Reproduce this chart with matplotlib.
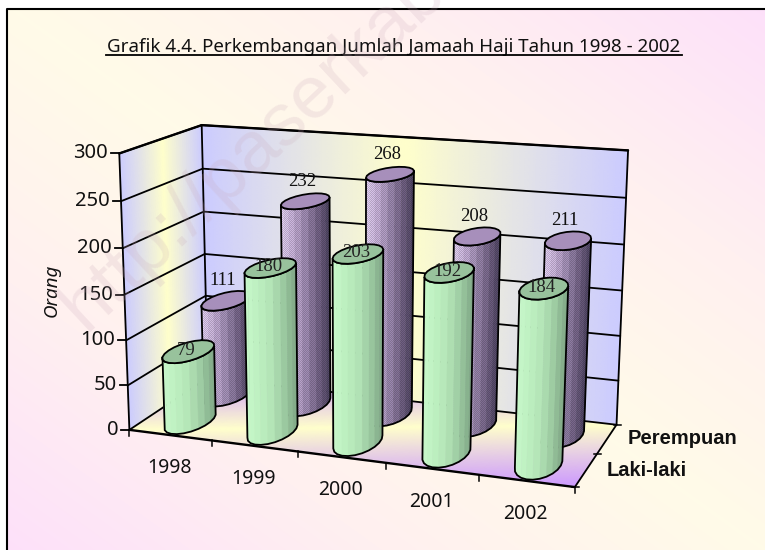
import numpy as np
import matplotlib
matplotlib.use("Agg")
import matplotlib.pyplot as plt
from matplotlib.colors import LinearSegmentedColormap
from matplotlib.patches import Polygon, Rectangle

# data
years = ["1998", "1999", "2000", "2001", "2002"]
laki = [79, 180, 203, 192, 184]
perempuan = [111, 232, 268, 208, 211]
value_ticks = [0, 50, 100, 150, 200, 250, 300]

W, H = 765, 550

# where the 3d chart box sits in the picture (category, series, value -> pixel)
calib_world = [
    (0, 0, 0), (1, 0, 0), (2, 0, 0), (3, 0, 0), (4, 0, 0), (5, 0, 0),
    (5, 2, 0), (0, 2, 0), (0, 0, 300), (0, 2, 300), (5, 2, 300),
]
calib_px = [
    (130, 430), (212, 440), (298, 451), (386, 462), (478, 475), (575, 489),
    (617, 423), (207, 379), (119, 153), (202, 125), (628, 151),
]


def fit_camera(world, px):
    rows, rhs = [], []
    for (c, s, v), (x, y) in zip(world, px):
        v = v / 100
        rows.append([c, s, v, 1, 0, 0, 0, 0, -x * c, -x * s, -x * v])
        rows.append([0, 0, 0, 0, c, s, v, 1, -y * c, -y * s, -y * v])
        rhs += [x, y]
    m = np.linalg.lstsq(np.array(rows, float), np.array(rhs, float), rcond=None)[0]
    return np.append(m, 1).reshape(3, 4)


CAM = fit_camera(calib_world, calib_px)


def project(c, s, v):
    c, s, v = np.broadcast_arrays(np.asarray(c, float), np.asarray(s, float), np.asarray(v, float))
    v = v / 100
    w = CAM[2, 0] * c + CAM[2, 1] * s + CAM[2, 2] * v + CAM[2, 3]
    x = CAM[0, 0] * c + CAM[0, 1] * s + CAM[0, 2] * v + CAM[0, 3]
    y = CAM[1, 0] * c + CAM[1, 1] * s + CAM[1, 2] * v + CAM[1, 3]
    return x / w, y / w


def line3d(ax, a, b, lw=1.3, z=3):
    x, y = project(*zip(a, b))
    ax.plot(x, y, color="black", lw=lw, zorder=z, solid_capstyle="round")


def grad_plane(ax, cc, ss, vv, val, cmap):
    x, y = project(cc, ss, vv)
    ax.pcolormesh(x, y, val, cmap=cmap, vmin=0, vmax=1, shading="gouraud", zorder=1)


def cylinder(ax, cat, ser, value, cmap, top_color, z, checker=None):
    rc, rs = 0.225, 0.46
    n = 22
    t = np.linspace(0, 2 * np.pi, n + 1)[:-1] + 0.1
    cx = cat + 0.5 + rc * np.cos(t)
    sx = ser + 0.5 + rs * np.sin(t)
    bx, by = project(cx, sx, 0)
    tx, ty = project(cx, sx, value)

    # visible side runs from the leftmost to the rightmost ring point, front way
    left, right = np.argmin(bx), np.argmax(bx)
    idx = np.roll(np.arange(n), -left)
    cut = int(np.where(idx == right)[0][0])
    arc1, arc2 = idx[:cut + 1], np.append(idx[cut:], left)
    front = arc1 if by[arc1].mean() > by[arc2].mean() else arc2
    if bx[front[0]] > bx[front[-1]]:
        front = front[::-1]

    span = bx[right] - bx[left]
    for i, j in zip(front[:-1], front[1:]):
        f = ((bx[i] + bx[j]) / 2 - bx[left]) / span
        ax.add_patch(Polygon([(bx[i], by[i]), (bx[j], by[j]), (tx[j], ty[j]), (tx[i], ty[i])],
                             closed=True, facecolor=cmap(f), edgecolor=cmap(f), lw=0.4, zorder=z))
    side = list(zip(bx[front], by[front])) + list(zip(tx[front][::-1], ty[front][::-1]))
    outline = Polygon(side, closed=True, fill=False, edgecolor="black", lw=1.3, zorder=z + 0.002)
    ax.add_patch(outline)
    if checker is not None:
        im = ax.imshow(checker, extent=(0, W, H, 0), zorder=z + 0.001, interpolation="nearest", aspect="auto")
        im.set_clip_path(Polygon(side, closed=True, transform=ax.transData))
    ax.add_patch(Polygon(list(zip(tx, ty)), closed=True, facecolor=top_color,
                         edgecolor="black", lw=1.3, zorder=z + 0.003))


fig = plt.figure(figsize=(W / 100, H / 100), dpi=100, facecolor="white")
ax = fig.add_axes([0, 0, 1, 1])

# figure background, cream on one diagonal and pink on the other
yy, xx = np.mgrid[0:H, 0:W]
u = np.abs(xx / W - yy / H)
bg_cmap = LinearSegmentedColormap.from_list("bg", ["#fffbe8", "#fff0f0", "#fde0fa"])
bg = ax.imshow(u, cmap=bg_cmap, vmin=0, vmax=1, extent=(0, W, H, 0), zorder=0, aspect="auto")
bg.set_clip_path(Rectangle((7, 9), W, H, transform=ax.transData))
ax.plot([7, 7, W], [H, 9, 9], color="black", lw=1.5, zorder=0.5)

# walls and floor
wall_cmap = LinearSegmentedColormap.from_list("wall", ["#ffffcc", "#ccccff"])
floor_cmap = LinearSegmentedColormap.from_list("floor", ["#ffffcc", "#cc99ff"])

g = np.linspace(0, 1, 41)
a, b = np.meshgrid(g, g)
grad_plane(ax, 0 * a, 2 * a, 300 * b, np.abs(2 * a - 1), wall_cmap)
grad_plane(ax, 5 * a, 2 + 0 * a, 300 * b, np.abs(2 * a - 1), wall_cmap)
grad_plane(ax, 5 * a, 2 * b, 0 * a, np.abs(a - b), floor_cmap)

for v in value_ticks:
    line3d(ax, (0, 0, v), (0, 2, v))
    line3d(ax, (0, 2, v), (5, 2, v))
    x, y = project(0, 0, v)
    ax.plot([x - 8, x], [y, y], color="black", lw=1.3, zorder=3)
    ax.text(x - 11, y, str(v), ha="right", va="center", fontsize=14.5, family="Noto Sans", color="#111111", zorder=6)

line3d(ax, (0, 0, 0), (0, 0, 300))
line3d(ax, (0, 2, 0), (0, 2, 300))
line3d(ax, (5, 2, 0), (5, 2, 300))
line3d(ax, (0, 0, 0), (5, 0, 0), lw=1.7)
line3d(ax, (5, 0, 0), (5, 2, 0))
line3d(ax, (0, 0, 300), (0, 2, 300), lw=1.7)
line3d(ax, (0, 2, 300), (5, 2, 300), lw=1.7)

# ticks along the floor
for i in range(6):
    x, y = project(i, 0, 0)
    ax.plot([x, x], [y, y + 6], color="black", lw=1.1, zorder=3)
for i in range(3):
    x, y = project(5, i, 0)
    ax.plot([x - 3, x + 4], [y, y], color="black", lw=1.1, zorder=3)

# cylinders, back row first
green_cmap = LinearSegmentedColormap.from_list(
    "green", ["#c8f8ca", "#bdf0c0", "#b3e4b6", "#9ccaa1", "#7ea584"])
purple_cmap = LinearSegmentedColormap.from_list(
    "purple", ["#e8d6f8", "#c8b2da", "#a08cb4", "#77668a", "#4c4260"])

checker = np.zeros((H, W, 4))
checker[..., 3] = ((xx + yy) % 2) * 0.16

for i, v in enumerate(perempuan):
    cylinder(ax, i, 1, v, purple_cmap, "#a78fbb", 4 + i * 0.01, checker)
    x, y = project(i + 0.5, 1.5, v)
    ax.text(x - 3, y - 20, str(v), ha="center", va="center", fontsize=13.5, family="Liberation Serif", color="#111111", zorder=7)
for i, v in enumerate(laki):
    cylinder(ax, i, 0, v, green_cmap, "#98c29c", 5 + i * 0.01)
    x, y = project(i + 0.5, 0.5, v)
    ax.text(x - 2, y - 1, str(v), ha="center", va="center", fontsize=13.5, family="Liberation Serif", color="#222222", zorder=7)

# category and series labels
for i, name in enumerate(years):
    x, y = project(i + 0.5, 0, 0)
    ax.text(x - 1, y + 33, name, ha="center", va="center", fontsize=14, family="Noto Sans", color="#111111", zorder=6)

ax.text(628, 438, "Perempuan", ha="left", va="center", fontsize=14.5, fontweight="bold", family="Liberation Sans", color="#111111")
ax.text(607, 471, "Laki-laki", ha="left", va="center", fontsize=14.5, fontweight="bold", family="Liberation Sans", color="#111111")
ax.text(52, 290, "Orang", rotation=90, ha="center", va="center", fontsize=13.5, style="italic", family="Noto Sans", color="#111111")

ax.text(394, 47, "Grafik 4.4. Perkembangan Jumlah Jamaah Haji Tahun 1998 - 2002", ha="center", va="center",
        fontsize=13.5, family="Noto Sans", color="#111111", zorder=6)
ax.plot([106, 682], [55, 55], color="black", lw=1.3, zorder=6)

# faint watermark across the chart
mark = ax.text(72, 318, "http://paserkab.go.id", rotation=43, rotation_mode="anchor", ha="left", va="center",
               fontsize=54, family="Liberation Sans", color="#c8a8b8", alpha=0.2, zorder=8)

ax.set_xlim(0, W)
ax.set_ylim(H, 0)
ax.axis("off")

fig.savefig("out.png", dpi=100)
